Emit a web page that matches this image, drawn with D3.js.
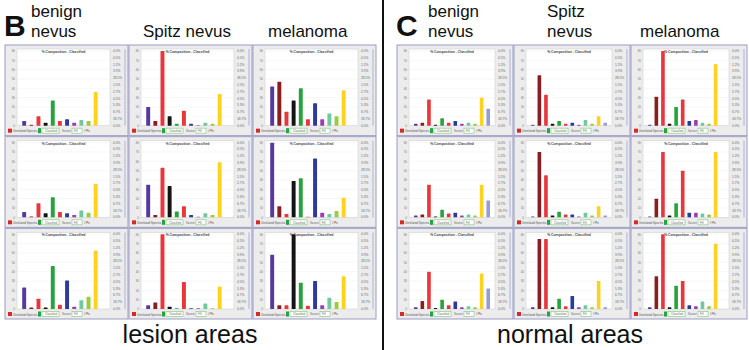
<!DOCTYPE html>
<html>
<head>
<meta charset="utf-8">
<script src="https://cdn.jsdelivr.net/npm/d3@7"></script>
<style>
  body { margin: 0; background: #fff; }
  svg { display: block; font-family: Arial, "Liberation Sans", sans-serif; }
</style>
</head>
<body>
<div id="chart"></div>
<script>
// components (12 spectral classes) shown as bars in every mini chart
const components = ["c1", "c2", "c3", "c4", "c5", "c6", "c7", "c8", "c9", "c10", "c11", "c12"];
const componentColors = ["#55399c", "#8a1d1d", "#e8363c", "#141414", "#27a33c", "#e8363c",
                         "#2c3a9c", "#9a3fae", "#6cc9a0", "#9ccc3c", "#ffd21f", "#9a9ad8"];
const lesionTypes = ["benign nevus", "Spitz nevus", "melanoma"];
const yTicks = [0, 10, 20, 30, 40, 50, 60, 70, 80];
const rightTicks = ["0.0%", "18.7%", "6.7%", "5.3%", "4.5%", "2.7%", "1.5%", "28.5%", "3.9%", "1.2%", "0.5%", "0.0%"];

// panel B - lesion areas, rows of the 3x3 grid, columns = lesionTypes
const lesionRow1 = [
  [5, 1, 10, 3, 27, 5, 7, 3, 6, 5, 36, 0],
  [20, 5, 80, 10, 2, 16, 2, 0.5, 3, 2, 34, 0],
  [42, 47, 15, 27, 40, 7, 24, 7, 13, 10, 38, 0]
];
const lesionRow2 = [
  [5.6, 1, 15, 4.5, 21.6, 5.6, 4.5, 2.6, 7.4, 4.8, 36, 0],
  [35, 2.6, 53, 33.5, 6.3, 12, 2.6, 0.5, 4.5, 2.6, 59, 0],
  [80, 12, 3.7, 39, 42, 0.7, 63, 4.8, 3.7, 6.7, 21, 0]
];
const lesionRow3 = [
  [23, 1.7, 11, 1.7, 46, 4.5, 30.6, 2.4, 9.4, 13, 62.6, 0],
  [4, 7, 80, 2.4, 0.7, 29, 0.7, 0.7, 6, 0.7, 24, 0],
  [58, 4, 4, 80, 28, 3.5, 30, 4, 12, 7.6, 35, 0]
];

// panel C - normal areas
const normalRow1 = [
  [2, 3, 28, 1, 8, 3, 5, 2, 3, 2, 30, 18],
  [1, 54, 33, 2, 5, 2, 3, 1, 6, 2, 10, 3],
  [1, 31, 80, 2, 20, 28, 5, 6, 3, 2, 66, 0]
];
const normalRow2 = [
  [2, 3, 35, 1, 8, 4, 5, 2, 3, 2, 35, 18],
  [1, 70, 45, 2, 6, 3, 3, 1, 5, 2, 12, 2],
  [1, 20, 70, 2, 15, 50, 5, 5, 4, 3, 70, 0]
];
const normalRow3 = [
  [2, 8.5, 40, 1, 10, 4, 8, 2, 3, 2, 38, 22],
  [2, 75, 75, 2, 11, 3, 14, 2, 4, 2, 30, 2],
  [2, 35, 80, 2, 25, 30, 4, 3, 8, 3, 70, 0]
];

const W = 749, H = 350;
const svg = d3.select("#chart").append("svg")
  .attr("width", W)
  .attr("height", H);

// divider between the two panels
svg.append("line")
  .attr("x1", 383).attr("x2", 383)
  .attr("y1", 0).attr("y2", H)
  .attr("stroke", "#111")
  .attr("stroke-width", 2);

function drawMini(g, w, h, values) {
  const plot = {left: 12, right: w - 18, top: 4, bottom: h - 10};

  g.append("rect")
    .attr("width", w).attr("height", h)
    .attr("fill", "#ececec")
    .attr("stroke", "#9c9cc4")
    .attr("stroke-width", 1);

  g.append("rect")
    .attr("x", plot.left).attr("y", plot.top)
    .attr("width", plot.right - plot.left).attr("height", plot.bottom - plot.top)
    .attr("fill", "#fff")
    .attr("stroke", "#c9c9c9")
    .attr("stroke-width", 0.5);

  const x = d3.scaleBand()
    .domain(components)
    .range([plot.left + 2, plot.right - 2])
    .padding(0.45);

  const y = d3.scaleLinear()
    .domain([0, 80])
    .range([plot.bottom, plot.top + 2]);

  // light grid
  g.append("g").selectAll("line")
    .data(yTicks.slice(1))
    .join("line")
    .attr("x1", plot.left).attr("x2", plot.right)
    .attr("y1", d => y(d)).attr("y2", d => y(d))
    .attr("stroke", "#eeeeee")
    .attr("stroke-width", 0.5);

  // left axis tiny labels
  const yAxis = d3.axisLeft(y).tickValues(yTicks).tickSize(0).tickPadding(2);
  const ax = g.append("g")
    .attr("transform", `translate(${plot.left},0)`)
    .call(yAxis);
  ax.select(".domain").remove();
  ax.selectAll("text").attr("font-size", 3).attr("fill", "#777");

  // right secondary labels
  const yr = d3.scalePoint()
    .domain(d3.range(rightTicks.length))
    .range([plot.bottom, plot.top + 2]);
  g.append("g").selectAll("text")
    .data(rightTicks)
    .join("text")
    .attr("x", plot.right + 3)
    .attr("y", (d, i) => yr(i) + 1)
    .attr("font-size", 3.2)
    .attr("fill", "#666")
    .text(d => d);

  g.append("line")
    .attr("x1", w - 3).attr("x2", w - 3)
    .attr("y1", plot.top).attr("y2", plot.bottom)
    .attr("stroke", "#b0b0d8").attr("stroke-width", 1);

  // title
  g.append("text")
    .attr("x", (plot.left + plot.right) / 2)
    .attr("y", plot.top + 4)
    .attr("text-anchor", "middle")
    .attr("font-size", 3.4)
    .attr("font-weight", "bold")
    .attr("fill", "#444")
    .text("% Composition - Classified");

  // bars
  g.append("g").selectAll("rect")
    .data(values)
    .join("rect")
    .attr("x", (d, i) => x(components[i]))
    .attr("y", d => y(d))
    .attr("width", x.bandwidth())
    .attr("height", d => plot.bottom - y(d))
    .attr("rx", 0.6)
    .attr("fill", (d, i) => componentColors[i]);

  // legend strip at bottom
  const leg = g.append("g").attr("transform", `translate(0,${h - 8})`);
  leg.append("rect").attr("x", 3).attr("y", 1).attr("width", 4).attr("height", 4).attr("fill", "#d42a2a");
  leg.append("text").attr("x", 8).attr("y", 4.5).attr("font-size", 3).attr("fill", "#555").text("Unrelated Spectra");
  leg.append("rect").attr("x", 33).attr("y", 0.5).attr("width", 3).attr("height", 5).attr("fill", "#27a33c");
  leg.append("rect").attr("x", 37).attr("y", 0.5).attr("width", 17).attr("height", 5)
    .attr("fill", "#fff").attr("stroke", "#7cc474").attr("stroke-width", 0.6);
  leg.append("text").attr("x", 40).attr("y", 4.2).attr("font-size", 2.8).attr("fill", "#666").text("Classified");
  leg.append("text").attr("x", 57).attr("y", 4.2).attr("font-size", 2.8).attr("fill", "#666").text("Source");
  leg.append("rect").attr("x", 67).attr("y", 0.5).attr("width", 10).attr("height", 5)
    .attr("fill", "#fff").attr("stroke", "#7cc474").attr("stroke-width", 0.6);
  leg.append("text").attr("x", 69).attr("y", 4.2).attr("font-size", 2.8).attr("fill", "#666").text("Fill");
  leg.append("text").attr("x", 79).attr("y", 4.2).attr("font-size", 2.8).attr("fill", "#333").text("# Px");
}

function drawPanel(x0, width, rows) {
  const col = d3.scaleBand().domain(d3.range(3)).range([x0, x0 + width]);
  const row = d3.scaleBand().domain(d3.range(3)).range([45, 320]);
  rows.forEach((r, ri) => {
    r.forEach((vals, ci) => {
      const g = svg.append("g")
        .attr("transform", `translate(${col(ci)},${row(ri)})`);
      drawMini(g, col.bandwidth() - 1, row.bandwidth() - 1, vals);
    });
  });
}

drawPanel(5, 372, [lesionRow1, lesionRow2, lesionRow3]);
drawPanel(397, 351, [normalRow1, normalRow2, normalRow3]);

// panel headers
function label(x, y, txt, size, weight) {
  svg.append("text")
    .attr("x", x).attr("y", y)
    .attr("font-size", size)
    .attr("font-weight", weight || "normal")
    .attr("fill", "#111")
    .text(txt);
}
label(4, 36, "B", 30, "bold");
label(31, 17, "benign", 17);
label(31, 37, "nevus", 17);
label(143, 37, lesionTypes[1], 17);
label(268, 37, lesionTypes[2], 17);

label(396, 36, "C", 30, "bold");
label(428, 17, "benign", 17);
label(428, 37, "nevus", 17);
label(547, 17, "Spitz", 17);
label(547, 37, "nevus", 17);
label(640, 37, lesionTypes[2], 17);

svg.append("text")
  .attr("x", 190).attr("y", 343)
  .attr("text-anchor", "middle")
  .attr("font-size", 25)
  .attr("fill", "#111")
  .text("lesion areas");
svg.append("text")
  .attr("x", 570).attr("y", 343)
  .attr("text-anchor", "middle")
  .attr("font-size", 25)
  .attr("fill", "#111")
  .text("normal areas");
</script>
</body>
</html>
